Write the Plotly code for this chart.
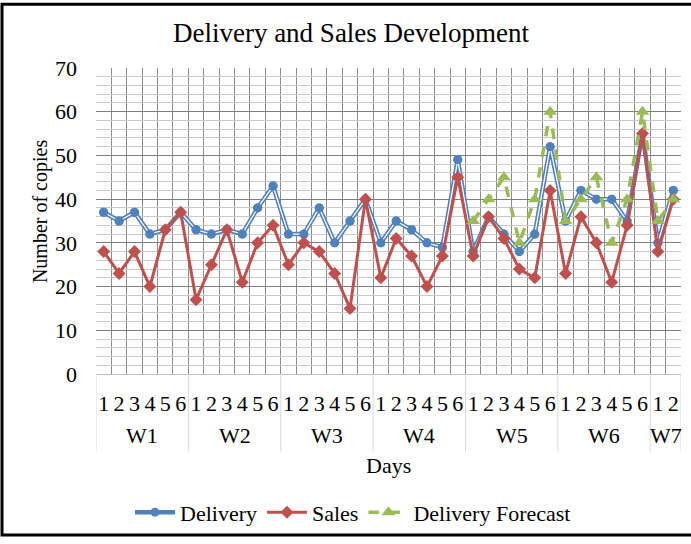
import plotly.graph_objects as go

weeks = ["W1", "W2", "W3", "W4", "W5", "W6", "W7"]
days_per_week = [6, 6, 6, 6, 6, 6, 2]
day_labels = ["1", "2", "3", "4", "5", "6"] * 6 + ["1", "2"]

delivery = [37, 35, 37, 32, 33, 37,
            33, 32, 33, 32, 38, 43,
            32, 32, 38, 30, 35, 40,
            30, 35, 33, 30, 29, 49,
            28, 36, 32, 28, 32, 52,
            35, 42, 40, 40, 35, 55,
            30, 42]
sales = [28, 23, 28, 20, 33, 37,
         17, 25, 33, 21, 30, 34,
         25, 30, 28, 23, 15, 40,
         22, 31, 27, 20, 27, 45,
         27, 36, 31, 24, 22, 42,
         23, 36, 30, 21, 34, 55,
         28, 40]
forecast = [None] * 24 + [35, 40, 45, 30, 40, 60,
                          35, 40, 45, 30, 40, 60,
                          35, 40]

x = list(range(len(day_labels)))
FONT = "Liberation Serif"
BLUE, RED, GREEN = "#4F81BD", "#C0504D", "#9BBB59"

# layout geometry (pixels)
K = 1.02
TOP, BOTTOM = 68, 385
H = 544


def py(yp):
    """reference pixel row -> paper y"""
    return (BOTTOM - yp * K) / (BOTTOM - TOP)


def px(xp):
    return (xp - 96) / 585


fig = go.Figure()
fig.add_trace(go.Scatter(x=x, y=delivery, mode="lines+markers", name="Delivery",
                         line=dict(color=BLUE, width=4.5),
                         marker=dict(symbol="circle", size=9, color=BLUE)))
fig.add_trace(go.Scatter(x=x, y=delivery, mode="lines", line=dict(color="white", width=1.3),
                         showlegend=False, hoverinfo="skip"))
fig.add_trace(go.Scatter(x=x, y=delivery, mode="markers", showlegend=False,
                         marker=dict(symbol="circle", size=9, color=BLUE), hoverinfo="skip"))
fig.add_trace(go.Scatter(x=x, y=sales, mode="lines+markers", name="Sales",
                         line=dict(color=RED, width=3),
                         marker=dict(symbol="diamond", size=10, color=RED)))
fig.add_trace(go.Scatter(x=x, y=forecast, mode="lines+markers", name="Delivery Forecast",
                         line=dict(color=GREEN, width=3.5, dash="dash"),
                         marker=dict(symbol="triangle-up", size=12, color=GREEN)))

shapes = []
annotations = []
start = 0
bounds = [-0.5]
for w, n in zip(weeks, days_per_week):
    center = start + (n - 1) / 2
    annotations.append(dict(x=center, y=py(440), xref="x", yref="paper", text=w,
                            xanchor="center", yanchor="middle",
                            showarrow=False, font=dict(family=FONT, size=22, color="black")))
    start += n
    bounds.append(start - 0.5)
for b in bounds:
    shapes.append(dict(type="line", xref="x", yref="paper", x0=b, x1=b, y0=0, y1=py(456),
                       line=dict(color="#D9D9D9", width=1)))

annotations.append(dict(x=px(388), y=py(470), xref="paper", yref="paper",
                        text="Days", xanchor="center", yanchor="middle",
                        showarrow=False, font=dict(family=FONT, size=22, color="black")))
annotations.append(dict(x=px(40), y=py(212), xref="paper", yref="paper",
                        text="Number of copies", xanchor="center", yanchor="middle",
                        textangle=-90, showarrow=False, font=dict(family=FONT, size=20, color="black")))

shapes.append(dict(type="rect", xref="paper", yref="paper",
                   x0=px(2), x1=px(700), y0=py(541), y1=py(2),
                   line=dict(color="black", width=3)))

fig.update_layout(
    width=691, height=H,
    margin=dict(l=96, r=10, t=TOP, b=H - BOTTOM),
    paper_bgcolor="white", plot_bgcolor="white",
    font=dict(family=FONT, size=22, color="black"),
    title=dict(text="Delivery and Sales Development", x=351 / 691, xanchor="center",
               y=1 - 32 * K / H, yanchor="middle", font=dict(family=FONT, size=27, color="black")),
    xaxis=dict(range=[-0.5, 37.5], tickmode="array", tickvals=x, ticktext=day_labels,
               showgrid=False, ticks="", ticklabelstandoff=10,
               tickfont=dict(family=FONT, size=22, color="black"),
               showline=True, linecolor="#BFBFBF", linewidth=1, zeroline=False,
               minor=dict(tickmode="array", tickvals=[i - 0.5 for i in range(39)],
                          showgrid=True, gridcolor="#8C8C8C", gridwidth=1, ticks="")),
    yaxis=dict(range=[0, 70], tickmode="linear", tick0=0, dtick=10,
               showgrid=True, gridcolor="#7F7F7F", gridwidth=1,
               ticks="", ticklabelstandoff=18,
               tickfont=dict(family=FONT, size=22, color="black"),
               showline=False, zeroline=False,
               minor=dict(dtick=2, showgrid=True, gridcolor="#C8C8C8", gridwidth=1)),
    legend=dict(orientation="h", x=px(353), xanchor="center",
                y=py(518), yanchor="middle",
                font=dict(family=FONT, size=22, color="black"), itemwidth=40,
                bgcolor="rgba(0,0,0,0)"),
    shapes=shapes,
    annotations=annotations,
)

fig.write_html("out.html", post_script="document.body.style.margin='0';",
               config={"displayModeBar": False})
